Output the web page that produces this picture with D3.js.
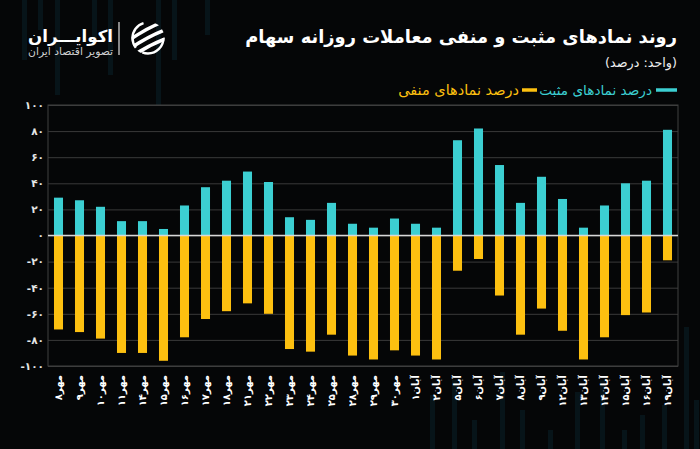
<!DOCTYPE html>
<html>
<head>
<meta charset="utf-8">
<script src="https://cdn.jsdelivr.net/npm/d3@7"></script>
<style>
  html, body { margin: 0; padding: 0; background: #050607; }
  svg { display: block; }
  text { font-family: "DejaVu Sans", "Noto Sans", sans-serif; }
</style>
</head>
<body>
<svg id="chart" width="700" height="449"></svg>
<script>
// ---- data ----
const categories = [
  "مهر۸","مهر۹","مهر۱۰","مهر۱۱","مهر۱۴","مهر۱۵","مهر۱۶","مهر۱۷","مهر۱۸","مهر۲۱",
  "مهر۲۲","مهر۲۳","مهر۲۴","مهر۲۵","مهر۲۸","مهر۲۹","مهر۳۰","آبان۱","آبان۲","آبان۵",
  "آبان۶","آبان۷","آبان۸","آبان۹","آبان۱۲","آبان۱۳","آبان۱۴","آبان۱۵","آبان۱۶","آبان۱۹"
];
const positiveValues = [29,27,22,11,11,5,23,37,42,49,41,14,12,25,9,6,13,9,6,73,82,54,25,45,28,6,23,40,42,81];
const negativeValues = [-72,-74,-79,-90,-90,-96,-78,-64,-58,-52,-60,-87,-89,-76,-92,-95,-88,-92,-95,-27,-18,-46,-76,-56,-73,-95,-78,-61,-59,-19];
const yTickValues = [100,80,60,40,20,0,-20,-40,-60,-80,-100];
const titleText = "روند نمادهای مثبت و منفی معاملات روزانه سهام";
const subtitleText = "(واحد: درصد)";
const seriesNames = ["درصد نمادهای مثبت", "درصد نمادهای منفی"];
const brandName = "اکوایـــران";
const brandTagline = "تصویر اقتصاد ایران";
// decorative background streaks (not data)
const bgStreaksTop = [[22,0,60],[38,0,30],[55,0,95],[92,0,40],[108,0,75],[156,0,120],[172,0,60],[205,0,35]];
const bgStreaksBottom = [[430,395,54],[452,380,69],[472,420,29],[500,372,77],[520,410,39],[548,430,19],[575,392,57],[600,380,69],[622,430,19],[640,415,34],[662,405,44],[684,327,122],[694,400,49]];

const colors = { pos: "#3ccfd2", neg: "#fdc010", bg: "#050607" };

const toFa = s => String(s).replace(/\d/g, d => "۰۱۲۳۴۵۶۷۸۹"[+d]);

const svg = d3.select("#chart");
svg.append("rect").attr("width", 700).attr("height", 449).attr("fill", colors.bg);

// decoration
const deco = svg.append("g").attr("fill", "#0a2129").attr("opacity", 0.55);
bgStreaksTop.concat(bgStreaksBottom).forEach(d => {
  deco.append("rect").attr("x", d[0]).attr("y", d[1]).attr("width", 5).attr("height", d[2]);
});

const plot = { left: 48, right: 678, top: 105, bottom: 366 };

const x = d3.scaleBand().domain(categories)
  .range([plot.left, plot.right]).paddingInner(0.57).paddingOuter(0.285);
const y = d3.scaleLinear().domain([-100, 100]).range([plot.bottom, plot.top]);

svg.append("rect").attr("x", plot.left).attr("y", plot.top)
  .attr("width", plot.right - plot.left).attr("height", plot.bottom - plot.top)
  .attr("fill", colors.bg);

// grid
const grid = svg.append("g")
  .attr("transform", `translate(${plot.left},0)`)
  .call(d3.axisLeft(y).tickValues(yTickValues).tickSize(-(plot.right - plot.left)).tickFormat(""));
grid.select(".domain").remove();
grid.selectAll("line").attr("stroke", "#3a3a3a").attr("stroke-width", 1);

// frame
svg.append("rect").attr("x", plot.left).attr("y", plot.top)
  .attr("width", plot.right - plot.left).attr("height", plot.bottom - plot.top)
  .attr("fill", "none").attr("stroke", "#404040").attr("stroke-width", 1);

// y axis labels
const yAxis = svg.append("g")
  .attr("transform", `translate(${plot.left},0)`)
  .call(d3.axisLeft(y).tickValues(yTickValues).tickSize(0).tickPadding(4)
    .tickFormat(d => d < 0 ? "-" + toFa(Math.abs(d)) : toFa(d)));
yAxis.select(".domain").remove();
yAxis.selectAll("text").attr("fill", "#e6e6e6").attr("font-size", 10.5).attr("font-weight", "bold")
  .style("font-family", "'DejaVu Sans', sans-serif");

// bars
const bw = x.bandwidth();
svg.append("g").selectAll("rect").data(categories).join("rect")
  .attr("x", d => x(d)).attr("width", bw)
  .attr("y", (d, i) => y(positiveValues[i]))
  .attr("height", (d, i) => y(0) - y(positiveValues[i]))
  .attr("fill", colors.pos);
svg.append("g").selectAll("rect").data(categories).join("rect")
  .attr("x", d => x(d)).attr("width", bw)
  .attr("y", y(0))
  .attr("height", (d, i) => y(negativeValues[i]) - y(0))
  .attr("fill", colors.neg);

// zero line
svg.append("line").attr("x1", plot.left).attr("x2", plot.right)
  .attr("y1", y(0)).attr("y2", y(0)).attr("stroke", "#d8d8d8").attr("stroke-width", 1.6);

// x labels
const xAxis = svg.append("g").attr("transform", `translate(0,${plot.bottom})`)
  .call(d3.axisBottom(x).tickSize(0).tickFormat(d => d));
xAxis.select(".domain").remove();
xAxis.selectAll("text")
  .attr("transform", "rotate(-90)")
  .attr("x", -9).attr("y", 0).attr("dy", "0.35em")
  .attr("text-anchor", "end")
  .attr("fill", "#ffffff").attr("font-size", 10).attr("font-weight", "bold")
  .style("font-family", "'DejaVu Sans', sans-serif");

function fitText(sel, targetW) {
  const w = sel.node().getComputedTextLength();
  const fs = parseFloat(sel.attr("font-size"));
  sel.attr("font-size", fs * targetW / w);
}
const title = svg.append("text").attr("x", 677).attr("y", 43)
  .attr("text-anchor", "end").attr("fill", "#ffffff")
  .attr("font-size", 18).attr("font-weight", "bold").text(titleText);
fitText(title, 432);

const sub = svg.append("text").attr("x", 677).attr("y", 67)
  .attr("text-anchor", "end").attr("fill", "#eeeeee")
  .attr("font-size", 12).text(subtitleText);
fitText(sub, 72);

// legend
const legY = 90;
svg.append("line").attr("x1", 656).attr("x2", 677).attr("y1", legY).attr("y2", legY)
  .attr("stroke", colors.pos).attr("stroke-width", 3.5);
const l1 = svg.append("text").attr("x", 652).attr("y", legY + 4.5).attr("text-anchor", "end")
  .attr("fill", colors.pos).attr("font-size", 13).text(seriesNames[0]);
fitText(l1, 113);
svg.append("line").attr("x1", 522).attr("x2", 537).attr("y1", legY).attr("y2", legY)
  .attr("stroke", colors.neg).attr("stroke-width", 3.5);
const l2 = svg.append("text").attr("x", 519).attr("y", legY + 4.5).attr("text-anchor", "end")
  .attr("fill", colors.neg).attr("font-size", 13).text(seriesNames[1]);
fitText(l2, 121);

// brand
const bn = svg.append("text").attr("x", 113).attr("y", 42).attr("text-anchor", "end")
  .attr("fill", "#ffffff").attr("font-size", 22).attr("font-weight", "bold").text(brandName);
fitText(bn, 85);
const bt = svg.append("text").attr("x", 113).attr("y", 55).attr("text-anchor", "end")
  .attr("fill", "#d0d0d0").attr("font-size", 9).text(brandTagline);
fitText(bt, 85);
svg.append("line").attr("x1", 119).attr("x2", 119).attr("y1", 22).attr("y2", 55)
  .attr("stroke", "#e0e0e0").attr("stroke-width", 1.2);

// icon
const defs = svg.append("defs");
defs.append("clipPath").attr("id", "logoClip").append("circle")
  .attr("cx", 148).attr("cy", 38).attr("r", 16.5);
const icon = svg.append("g");
icon.append("circle").attr("cx", 148).attr("cy", 38).attr("r", 15.5)
  .attr("fill", "none").attr("stroke", "#ffffff").attr("stroke-width", 2.4)
  .attr("stroke-dasharray", "30 8 30 30");
const ig = icon.append("g").attr("clip-path", "url(#logoClip)");
[-9, 0, 9].forEach(off => {
  ig.append("path")
    .attr("d", `M${128},${50 + off} Q${148},${36 + off} ${170},${28 + off}`)
    .attr("fill", "none").attr("stroke", "#ffffff").attr("stroke-width", 3.6)
    .attr("stroke-linecap", "round");
});
</script>
</body>
</html>
